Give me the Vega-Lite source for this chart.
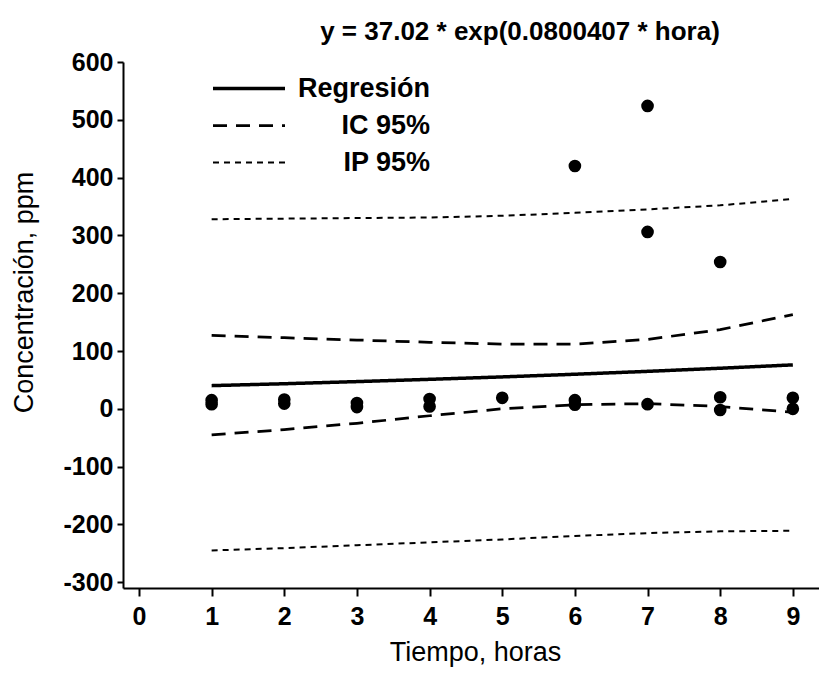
{
  "$schema": "https://vega.github.io/schema/vega-lite/v6.json",
  "width": 696,
  "height": 526,
  "autosize": {"type": "none"},
  "padding": {"left": 123, "top": 62, "right": 0, "bottom": 88},
  "background": "white",
  "config": {
    "view": {"stroke": null},
    "font": "Liberation Sans",
    "axis": {
      "domainColor": "black", "domainWidth": 2, "tickColor": "black", "tickWidth": 2,
      "labelColor": "black", "labelFont": "Liberation Sans", "labelFontWeight": "bold", "labelFontSize": 25,
      "titleColor": "black", "titleFont": "Liberation Sans", "titleFontWeight": "normal", "titleFontSize": 27,
      "grid": false
    }
  },
  "title": {
    "text": "y = 37.02 * exp(0.0800407 * hora)",
    "frame": "group", "anchor": "middle", "dx": 49, "dy": 38, "offset": 22, "baseline": "alphabetic",
    "font": "Liberation Sans", "fontSize": 26, "fontWeight": "bold", "color": "black"
  },
  "datasets": {
    "puntos": [
      {"hora": 1, "conc": 15}, {"hora": 1, "conc": 8},
      {"hora": 2, "conc": 16}, {"hora": 2, "conc": 9},
      {"hora": 3, "conc": 10}, {"hora": 3, "conc": 3},
      {"hora": 4, "conc": 17}, {"hora": 4, "conc": 4},
      {"hora": 5, "conc": 19},
      {"hora": 6, "conc": 420}, {"hora": 6, "conc": 15}, {"hora": 6, "conc": 7},
      {"hora": 7, "conc": 524}, {"hora": 7, "conc": 306}, {"hora": 7, "conc": 8},
      {"hora": 8, "conc": 254}, {"hora": 8, "conc": 20}, {"hora": 8, "conc": -2},
      {"hora": 9, "conc": 19}, {"hora": 9, "conc": 0}
    ],
    "curvas": [
      {"hora": 1, "serie": "Regresión", "limite": "c", "valor": 40.1},
      {"hora": 2, "serie": "Regresión", "limite": "c", "valor": 43.4},
      {"hora": 3, "serie": "Regresión", "limite": "c", "valor": 47.1},
      {"hora": 4, "serie": "Regresión", "limite": "c", "valor": 51.0},
      {"hora": 5, "serie": "Regresión", "limite": "c", "valor": 55.2},
      {"hora": 6, "serie": "Regresión", "limite": "c", "valor": 59.8},
      {"hora": 7, "serie": "Regresión", "limite": "c", "valor": 64.8},
      {"hora": 8, "serie": "Regresión", "limite": "c", "valor": 70.2},
      {"hora": 9, "serie": "Regresión", "limite": "c", "valor": 76.0},
      {"hora": 1, "serie": "IC 95%", "limite": "sup", "valor": 127},
      {"hora": 2, "serie": "IC 95%", "limite": "sup", "valor": 123},
      {"hora": 3, "serie": "IC 95%", "limite": "sup", "valor": 119},
      {"hora": 4, "serie": "IC 95%", "limite": "sup", "valor": 115},
      {"hora": 5, "serie": "IC 95%", "limite": "sup", "valor": 112},
      {"hora": 6, "serie": "IC 95%", "limite": "sup", "valor": 112},
      {"hora": 7, "serie": "IC 95%", "limite": "sup", "valor": 120},
      {"hora": 8, "serie": "IC 95%", "limite": "sup", "valor": 137},
      {"hora": 9, "serie": "IC 95%", "limite": "sup", "valor": 163},
      {"hora": 1, "serie": "IC 95%", "limite": "inf", "valor": -45},
      {"hora": 2, "serie": "IC 95%", "limite": "inf", "valor": -36},
      {"hora": 3, "serie": "IC 95%", "limite": "inf", "valor": -25},
      {"hora": 4, "serie": "IC 95%", "limite": "inf", "valor": -12},
      {"hora": 5, "serie": "IC 95%", "limite": "inf", "valor": 0},
      {"hora": 6, "serie": "IC 95%", "limite": "inf", "valor": 7},
      {"hora": 7, "serie": "IC 95%", "limite": "inf", "valor": 9},
      {"hora": 8, "serie": "IC 95%", "limite": "inf", "valor": 4},
      {"hora": 9, "serie": "IC 95%", "limite": "inf", "valor": -6},
      {"hora": 1, "serie": "IP 95%", "limite": "sup", "valor": 328},
      {"hora": 2, "serie": "IP 95%", "limite": "sup", "valor": 329},
      {"hora": 3, "serie": "IP 95%", "limite": "sup", "valor": 330},
      {"hora": 4, "serie": "IP 95%", "limite": "sup", "valor": 331},
      {"hora": 5, "serie": "IP 95%", "limite": "sup", "valor": 334},
      {"hora": 6, "serie": "IP 95%", "limite": "sup", "valor": 339},
      {"hora": 7, "serie": "IP 95%", "limite": "sup", "valor": 345},
      {"hora": 8, "serie": "IP 95%", "limite": "sup", "valor": 352},
      {"hora": 9, "serie": "IP 95%", "limite": "sup", "valor": 363},
      {"hora": 1, "serie": "IP 95%", "limite": "inf", "valor": -245},
      {"hora": 2, "serie": "IP 95%", "limite": "inf", "valor": -241},
      {"hora": 3, "serie": "IP 95%", "limite": "inf", "valor": -236},
      {"hora": 4, "serie": "IP 95%", "limite": "inf", "valor": -231},
      {"hora": 5, "serie": "IP 95%", "limite": "inf", "valor": -226},
      {"hora": 6, "serie": "IP 95%", "limite": "inf", "valor": -220},
      {"hora": 7, "serie": "IP 95%", "limite": "inf", "valor": -215},
      {"hora": 8, "serie": "IP 95%", "limite": "inf", "valor": -212},
      {"hora": 9, "serie": "IP 95%", "limite": "inf", "valor": -211}
    ]
  },
  "layer": [
    {
      "data": {"name": "curvas"},
      "mark": {"type": "line", "color": "black"},
      "encoding": {
        "x": {"field": "hora", "type": "quantitative",
              "scale": {"domain": [-0.22, 9.36], "nice": false, "zero": false},
              "axis": {"title": "Tiempo, horas", "values": [0,1,2,3,4,5,6,7,8,9], "format": "d",
                       "tickSize": 8, "labelPadding": 8,
                       "titleX": 352, "titleY": 72, "titleBaseline": "alphabetic"}},
        "y": {"field": "valor", "type": "quantitative",
              "scale": {"domain": [-310, 600], "nice": false, "zero": false},
              "axis": {"title": "Concentración, ppm", "values": [-300,-200,-100,0,100,200,300,400,500,600],
                       "labelExpr": "'' + datum.value",
                       "tickSize": 6, "labelPadding": 4,
                       "titleX": -91, "titleY": 230, "titleBaseline": "alphabetic", "titleAngle": -90}},
        "detail": {"field": "limite"},
        "strokeDash": {"field": "serie", "type": "nominal",
                       "scale": {"domain": ["Regresión", "IC 95%", "IP 95%"], "range": [[1, 0], [14, 9], [6, 5]]},
                       "legend": {"title": null, "orient": "none", "legendX": 88, "legendY": 8,
                                  "symbolType": "stroke", "symbolSize": 5184, "symbolStrokeColor": "black",
                                  "symbolStrokeWidth": 2, "labelFont": "Liberation Sans", "labelFontWeight": "bold",
                                  "labelFontSize": 27, "labelColor": "black", "labelAlign": "right",
                                  "labelOffset": 143, "labelLimit": 300, "rowPadding": 0, "clipHeight": 37, "padding": 0}},
        "strokeWidth": {"field": "serie", "type": "nominal",
                        "scale": {"domain": ["Regresión", "IC 95%", "IP 95%"], "range": [3.5, 2, 2]},
                        "legend": null}
      }
    },
    {
      "data": {"name": "puntos"},
      "mark": {"type": "circle", "color": "black", "opacity": 1, "size": 160},
      "encoding": {
        "x": {"field": "hora", "type": "quantitative"},
        "y": {"field": "conc", "type": "quantitative"}
      }
    }
  ]
}
